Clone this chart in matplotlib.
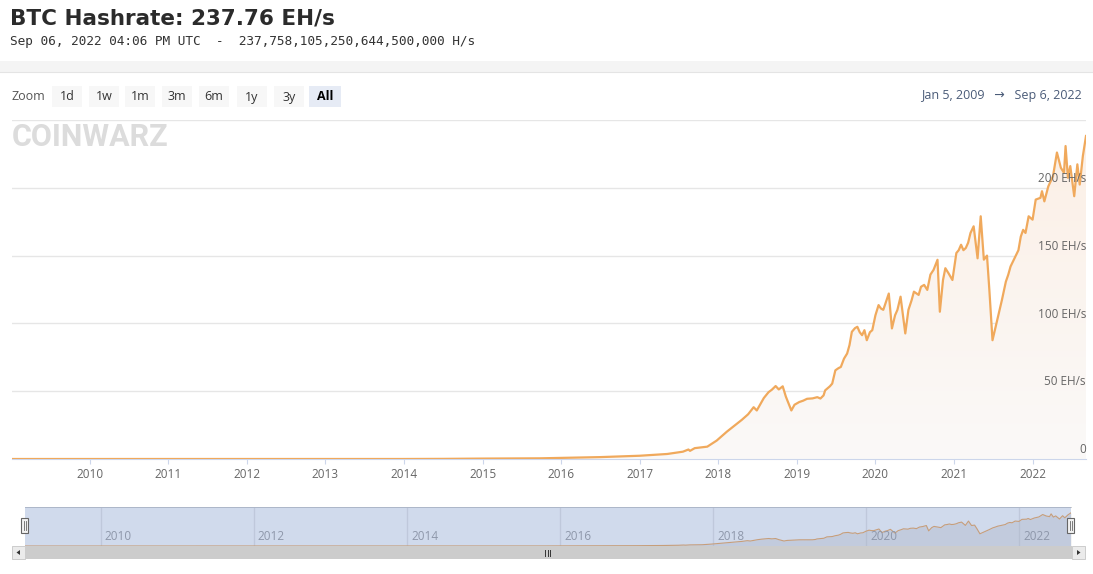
import numpy as np
import matplotlib as mpl
import matplotlib.pyplot as plt
from matplotlib.patches import Rectangle, Polygon

# BTC network hashrate (EH/s) vs decimal year
years = [2009.011, 2010.0, 2011.0, 2012.0, 2013.0, 2013.5, 2014.0, 2014.5, 2015.0, 2015.5,
         2015.73, 2016.0, 2016.5, 2017.0, 2017.35, 2017.55, 2017.62, 2017.64, 2017.70, 2017.86,
         2017.98, 2018.11, 2018.22, 2018.30, 2018.38, 2018.45, 2018.49, 2018.58, 2018.64, 2018.68,
         2018.73, 2018.77, 2018.82, 2018.86, 2018.93, 2018.97, 2019.03, 2019.08, 2019.13, 2019.20,
         2019.26, 2019.30, 2019.34, 2019.36, 2019.42, 2019.45, 2019.49, 2019.53, 2019.56, 2019.60,
         2019.64, 2019.67, 2019.70, 2019.74, 2019.77, 2019.80, 2019.83, 2019.86, 2019.89, 2019.93,
         2019.96, 2020.00, 2020.04, 2020.07, 2020.10, 2020.17, 2020.21, 2020.25, 2020.28, 2020.32,
         2020.38, 2020.42, 2020.46, 2020.49, 2020.55, 2020.58, 2020.62, 2020.66, 2020.70, 2020.74,
         2020.79, 2020.82, 2020.86, 2020.89, 2020.93, 2020.98, 2021.03, 2021.06, 2021.09, 2021.12,
         2021.15, 2021.18, 2021.21, 2021.25, 2021.30, 2021.34, 2021.38, 2021.42, 2021.45, 2021.49,
         2021.52, 2021.55, 2021.61, 2021.66, 2021.69, 2021.72, 2021.78, 2021.82, 2021.85, 2021.88,
         2021.91, 2021.95, 2022.00, 2022.04, 2022.10, 2022.12, 2022.15, 2022.20, 2022.26, 2022.31,
         2022.36, 2022.40, 2022.42, 2022.45, 2022.48, 2022.53, 2022.57, 2022.60, 2022.64, 2022.68]
hashrate = [0.0, 0.0, 0.00001, 0.00002, 0.00002, 0.0003, 0.01, 0.1, 0.3, 0.4,
            0.5, 0.8, 1.4, 2.4, 3.7, 5.4, 7.0, 6.0, 8.0, 9.1,
            13.6, 20.2, 25.2, 28.9, 33.0, 38.2, 35.8, 45.0, 49.3, 51.0,
            53.8, 51.3, 53.6, 46.0, 35.8, 40.0, 42.0, 43.0, 44.4, 44.7,
            45.6, 44.6, 46.9, 50.6, 53.6, 55.6, 65.4, 67.0, 67.9, 74.0,
            77.8, 84.0, 93.8, 96.5, 97.5, 93.5, 91.3, 95.0, 87.6, 93.5,
            95.0, 106.0, 113.5, 111.0, 110.0, 122.0, 96.3, 106.0, 110.0, 119.7,
            92.6, 110.0, 117.0, 123.4, 121.0, 127.0, 128.4, 124.7, 136.0, 139.5,
            146.9, 108.6, 132.0, 140.7, 137.0, 132.0, 151.9, 154.0, 158.0, 154.0,
            155.6, 159.5, 166.7, 171.6, 148.0, 179.0, 147.0, 150.0, 124.7, 87.6,
            95.0, 102.4, 117.3, 130.8, 135.8, 142.0, 149.3, 154.0, 164.0, 169.0,
            166.7, 179.0, 176.5, 191.3, 192.6, 197.5, 190.0, 201.0, 208.6, 226.0,
            214.8, 211.0, 230.8, 207.4, 216.0, 193.8, 217.3, 202.4, 223.4, 238.2]

year_ticks = list(range(2010, 2023))
nav_ticks = list(range(2010, 2023, 2))
y_ticks = [0, 50, 100, 150, 200]
y_labels = ['0', '50 EH/s', '100 EH/s', '150 EH/s', '200 EH/s']
zoom_buttons = ['1d', '1w', '1m', '3m', '6m', '1y', '3y', 'All']

W, H = 1093, 574
fig = plt.figure(figsize=(W / 100, H / 100), dpi=100)
fig.patch.set_facecolor('white')
FONT = ['Open Sans', 'DejaVu Sans']


def box(x0, y0, x1, y1):
    # pixel box (top-left origin) -> figure rect
    return [x0 / W, 1 - y1 / H, (x1 - x0) / W, (y1 - y0) / H]


x_min, x_max = 2009.011, 2022.68
line_color = '#f0a95c'

# ---- main chart ----
ax = fig.add_axes(box(12, 120, 1086, 459))
ax.set_xlim(x_min, x_max)
ax.set_ylim(0, 250)
ax.set_facecolor('none')
ax.plot(years, hashrate, color=line_color, lw=1.6, zorder=3, solid_joinstyle='round')
area = ax.fill_between(years, hashrate, 0, color='none', lw=0)
top_c = np.array(mpl.colors.to_rgb('#fcefe5'))
bot_c = np.array(mpl.colors.to_rgb('#faf9f8'))
t = np.linspace(0, 1, 256)[:, None]
grad = (top_c * (1 - t) + bot_c * t)[:, None, :]
im = ax.imshow(grad, extent=[x_min, x_max, 0, 250], aspect='auto', origin='upper', zorder=1)
im.set_clip_path(area.get_paths()[0], transform=ax.transData)

ax.set_yticks(y_ticks + [250])
ax.yaxis.grid(True, color='#e6e6e6', lw=1)
ax.set_axisbelow(True)
ax.tick_params(axis='y', left=False, labelleft=False)
for v, lab in zip(y_ticks, y_labels):
    ax.annotate(lab, (1.0, v), xycoords=ax.get_yaxis_transform(), xytext=(0, 2),
                textcoords='offset points', ha='right', va='bottom', fontsize=8.5,
                color='#666666', family=FONT, zorder=5)

ax.set_xticks(year_ticks)
ax.set_xticklabels([str(y) for y in year_ticks], family=FONT)
ax.tick_params(axis='x', length=3.6, color='#ccd6eb', labelsize=8.5, labelcolor='#666666', pad=3)
for s in ['top', 'left', 'right']:
    ax.spines[s].set_visible(False)
ax.spines['bottom'].set_color('#ccd6eb')
ax.spines['bottom'].set_zorder(2)

# ---- navigator ----
nav = fig.add_axes(box(25, 507, 1071, 546))
nav.set_xlim(x_min, x_max)
nav.set_ylim(0, 280)
nav.fill_between(years, hashrate, 0, color='#c4c4c4', alpha=0.35, lw=0, zorder=1)
nav.plot(years, hashrate, color=line_color, lw=0.8, zorder=2)
nav.set_xticks(nav_ticks)
nav.xaxis.grid(True, color='#e6e6e6', lw=1)
nav.set_axisbelow(True)
nav.tick_params(left=False, labelleft=False, bottom=False, labelbottom=False)
nav.axvspan(x_min, x_max, color=(102 / 255, 133 / 255, 194 / 255), alpha=0.3, lw=0, zorder=3)
for y in nav_ticks:
    nav.annotate(str(y), (y, 0), xycoords=nav.get_xaxis_transform(), xytext=(3, 2),
                 textcoords='offset points', ha='left', va='bottom', fontsize=8.5,
                 color='#8e97aa', family=FONT, zorder=4)
for s in nav.spines.values():
    s.set_color('#cccccc')
    s.set_linewidth(0.7)
nav.spines['left'].set_visible(False)
nav.spines['right'].set_visible(False)

# ---- page decorations (pixel space) ----
ui = fig.add_axes([0, 0, 1, 1], zorder=10)
ui.set_xlim(0, W)
ui.set_ylim(H, 0)
ui.axis('off')
ui.patch.set_visible(False)

fig.text(10 / W, 1 - 18 / H, 'BTC Hashrate: 237.76 EH/s', fontsize=15.5, fontweight='bold',
         color='#2b2b2b', family='DejaVu Sans', va='center')
fig.text(10 / W, 1 - 41 / H, 'Sep 06, 2022 04:06 PM UTC  -  237,758,105,250,644,500,000 H/s',
         fontsize=9.2, color='#333333', family='DejaVu Sans Mono', va='center')

ui.add_patch(Rectangle((0, 61), W, 11, fc='#f4f4f4', ec='none'))
ui.plot([0, W], [72, 72], color='#e4e4e4', lw=0.8)

ui.text(12, 97, 'Zoom', fontsize=9, color='#555555', family=FONT, va='center')
btn_x = [52, 89, 125, 162, 199, 237, 274, 309]
for bx, lab in zip(btn_x, zoom_buttons):
    sel = lab == 'All'
    bw = 32 if sel else 30
    ui.add_patch(Rectangle((bx, 86), bw, 21, fc='#e6ebf5' if sel else '#f7f7f7', ec='none'))
    ui.text(bx + bw / 2, 97, lab, fontsize=9, color='#000000' if sel else '#333333',
            fontweight='bold' if sel else 'normal', family=FONT, ha='center', va='center')
ui.text(1082, 96, 'Jan 5, 2009   \u2192   Sep 6, 2022', fontsize=9, color='#4a5b78',
        family=FONT, ha='right', va='center')

ui.text(12, 137, 'COINWARZ', fontsize=22, fontweight='bold', color='#dcdcdc',
        family=['Roboto', 'DejaVu Sans'], va='center', ha='left')

# scrollbar
ui.add_patch(Rectangle((12, 546), 1073, 13, fc='#f2f2f2', ec='none'))
ui.add_patch(Rectangle((25, 546), 1047, 13, fc='#cccccc', ec='none'))
for bx in (12, 1072):
    ui.add_patch(Rectangle((bx, 546), 13, 13, fc='#ebebeb', ec='#cccccc', lw=0.7))
ui.add_patch(Polygon([(20, 550), (20, 555), (16.5, 552.5)], fc='#333333', ec='none'))
ui.add_patch(Polygon([(1077, 550), (1077, 555), (1080.5, 552.5)], fc='#333333', ec='none'))
for gx in (545, 547.5, 550):
    ui.plot([gx, gx], [549.5, 555.5], color='#333333', lw=0.7)

# navigator handles
for hx in (21, 1067):
    ui.add_patch(Rectangle((hx, 518), 7, 15, fc='#f2f2f2', ec='#666666', lw=0.8))
    for gx in (hx + 2.5, hx + 4.5):
        ui.plot([gx, gx], [521, 530], color='#666666', lw=0.6)

plt.savefig('out.png', dpi=100)
